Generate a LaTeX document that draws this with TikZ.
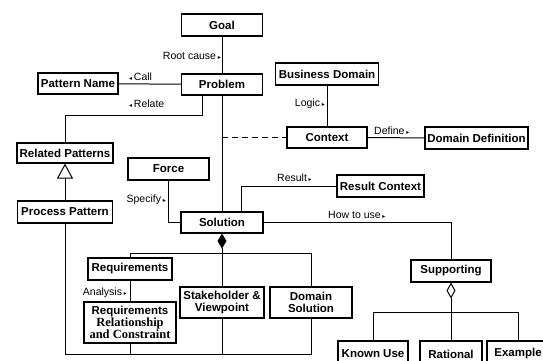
\documentclass[tikz,border=0pt]{standalone}
\usepackage{fontspec}
\setmainfont{Liberation Sans}
\newfontfamily\serifbox{Liberation Serif}
\newfontfamily\symfont{DejaVu Sans}
\usetikzlibrary{arrows.meta,calc}
\newcommand\rmk{\,{\symfont\fontsize{6}{6}\selectfont ▸}}
\newcommand\lmk{{\symfont\fontsize{6}{6}\selectfont ◂}\,}
\begin{document}
\begin{tikzpicture}[x=1pt,y=-1pt,
  box/.style={draw,line width=1.1pt,inner sep=1pt,font=\fontsize{11.5}{12.5}\selectfont\bfseries,align=center},
  twol/.style={font=\fontsize{11.5}{12}\selectfont\bfseries},
  lbl/.style={inner sep=0pt,font=\fontsize{10.5}{11}\selectfont},
  ln/.style={line width=1pt}]
\useasboundingbox (0,0) rectangle (543,360);
% boxes
\node[box,minimum width=81pt,minimum height=22pt] (goal) at (222,25) {Goal};
\node[box,minimum width=81pt,minimum height=21pt] (problem) at (222,84.5) {Problem};
\node[box,minimum width=80pt,minimum height=21pt] (pname) at (78,83.5) {Pattern Name};
\node[box,minimum width=103pt,minimum height=22pt] (bdomain) at (327,74) {Business Domain};
\node[box,minimum width=80pt,minimum height=21pt] (context) at (327,137.5) {Context};
\node[box,minimum width=103pt,minimum height=22pt] (ddef) at (476.5,138) {Domain Definition};
\node[box,minimum width=96pt,minimum height=20pt] (related) at (65,153) {Related Patterns};
\node[box,minimum width=81pt,minimum height=22pt] (force) at (168.5,169) {Force};
\node[box,minimum width=87pt,minimum height=22pt] (rcontext) at (380.5,186) {Result Context};
\node[box,minimum width=95pt,minimum height=22pt] (process) at (65,212) {Process Pattern};
\node[box,minimum width=82pt,minimum height=21pt] (solution) at (222,222.5) {Solution};
\node[box,minimum width=84pt,minimum height=22pt] (req) at (130,269) {Requirements};
\node[box,minimum width=80pt,minimum height=22pt] (supporting) at (451,271) {Supporting};
\node[box,twol,minimum width=92pt,minimum height=41pt,inner sep=0pt] (reqrel) at (130,322.5) {Requirements\\{\serifbox\bfseries\fontsize{12.5}{12}\selectfont Relationship}\\{\serifbox\bfseries\fontsize{12.5}{12}\selectfont and Constraint}};
\node[box,twol,minimum width=84pt,minimum height=31pt,inner sep=0pt] (stake) at (222,302.5) {Stakeholder \&\\Viewpoint};
\node[box,twol,minimum width=82pt,minimum height=31pt,inner sep=0pt] (dsol) at (311,302.5) {Domain\\Solution};
\node[box,minimum width=70pt,minimum height=26pt] (known) at (373,354) {Known Use};
\node[box,minimum width=62pt,minimum height=26pt] (rational) at (451,354) {Rational};
\node[box,minimum width=62pt,minimum height=26pt] (example) at (518,354) {Example};
% connectors
\draw[ln] (goal) -- (problem);
\node[lbl,anchor=east] (l1) at (221,56) {Root cause\rmk};
\draw[ln] (pname) -- (problem);
\node[lbl,anchor=west] (l2) at (129,77) {\lmk Call};
\draw[ln] ([xshift=-20pt]problem.south) -- ++(0,20) -| (related.north);
\node[lbl,anchor=west] (l3) at (129,104) {\lmk Relate};
\draw[ln] (problem) -- (solution);
\draw[ln,dashed,dash pattern=on 6pt off 4pt] (problem.south |- context.west) -- (context.west);
\draw[ln] (bdomain) -- (context);
\node[lbl,anchor=east] (l4) at (325,104) {Logic\rmk};
\draw[ln] (context) -- (ddef);
\node[lbl,anchor=west] (l5) at (374,131) {Define\rmk};
\draw[ln] (force.south) |- (solution.west);
\node[lbl,anchor=east] (l6) at (166,200) {Specify\rmk};
\draw[ln] ([xshift=19pt]solution.north) |- (rcontext.west);
\node[lbl,anchor=west] (l7) at (277,178) {Result\rmk};
\draw[ln] (solution.east) -| (supporting.north);
\node[lbl,anchor=west] (l8) at (328,215) {How to use\rmk};
\draw[ln,{Diamond[length=15pt,width=9pt]}-] (solution.south) -- (stake.north);
\coordinate (sb) at ($(solution.south)+(0,20)$);
\draw[ln] (req.north) |- (sb) -| (dsol.north);
\draw[ln] (req) -- (reqrel);
\node[lbl,anchor=east] (l9) at (127,293) {Analysis\rmk};
\draw[ln,-{Triangle[open,length=15pt,width=16pt]}] (process.north) -- (related.south);
\coordinate (bl) at ($(dsol.south)+(0,36)$);
\draw[ln] (process.south) |- (bl) -- (dsol.south);
\draw[ln] (reqrel.south) -- (reqrel.south |- bl);
\draw[ln] (stake.south) -- (stake.south |- bl);
\coordinate (sp) at ($(supporting.south)+(0,30)$);
\draw[ln,{Diamond[open,length=16pt,width=9pt]}-] (supporting.south) -- (sp);
\draw[ln] (known.north) |- (sp) -| (example.north);
\draw[ln] (sp) -- (rational.north);
\end{tikzpicture}
\end{document}
